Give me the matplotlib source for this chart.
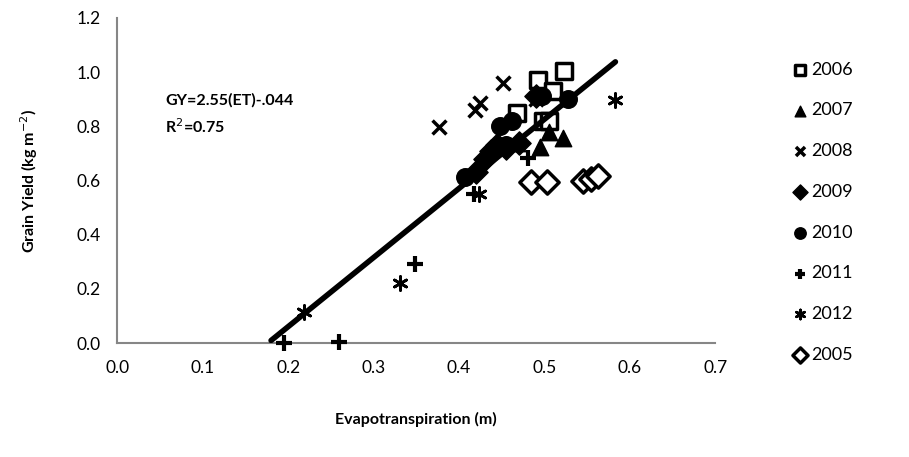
import numpy as np
import matplotlib
matplotlib.use("Agg")
import matplotlib.pyplot as plt

plt.rcParams["font.family"] = ["Lato", "DejaVu Sans"]

# evapotranspiration (m) and grain yield (kg m-2) per season
et_2006 = [0.492, 0.523, 0.510, 0.468, 0.498, 0.505]
gy_2006 = [0.970, 1.005, 0.930, 0.850, 0.820, 0.820]
et_2007 = [0.468, 0.495, 0.505, 0.522]
gy_2007 = [0.740, 0.725, 0.780, 0.756]
et_2008 = [0.377, 0.419, 0.425, 0.452, 0.490]
gy_2008 = [0.797, 0.860, 0.885, 0.960, 0.900]
et_2009 = [0.420, 0.430, 0.437, 0.445, 0.455, 0.470, 0.490]
gy_2009 = [0.630, 0.680, 0.710, 0.730, 0.720, 0.740, 0.910]
et_2010 = [0.407, 0.448, 0.462, 0.455, 0.497, 0.528]
gy_2010 = [0.612, 0.800, 0.820, 0.730, 0.910, 0.900]
et_2011 = [0.195, 0.260, 0.349, 0.417, 0.481]
gy_2011 = [0.000, 0.005, 0.292, 0.550, 0.682]
et_2012 = [0.218, 0.331, 0.423, 0.583]
gy_2012 = [0.115, 0.222, 0.550, 0.897]
et_2005 = [0.484, 0.503, 0.545, 0.555, 0.563]
gy_2005 = [0.595, 0.595, 0.600, 0.605, 0.615]

# fitted trendline
fit_slope = 2.55
fit_intercept = -0.449
fit_x = [0.18, 0.583]

fig = plt.figure(figsize=(9.09, 4.57), dpi=100)
ax = fig.add_axes([0.129, 0.249, 0.658, 0.712])

ms = 140
ax.scatter(et_2006, gy_2006, s=ms, marker="s", facecolor="white", edgecolor="black", linewidth=2.5, label="2006", zorder=3)
ax.scatter(et_2007, gy_2007, s=ms, marker="^", color="black", label="2007", zorder=3)
ax.scatter(et_2008, gy_2008, s=100, marker="x", color="black", linewidth=2.5, label="2008", zorder=3)
ax.scatter(et_2009, gy_2009, s=ms, marker="D", color="black", label="2009", zorder=3)
ax.scatter(et_2010, gy_2010, s=ms + 20, marker="o", color="black", label="2010", zorder=3)
ax.scatter(et_2011, gy_2011, s=120, marker="+", color="black", linewidth=3, label="2011", zorder=3, clip_on=False)
ax.scatter(et_2012, gy_2012, s=100, marker=(6, 2, 0), color="black", linewidth=2, label="2012", zorder=3)
ax.scatter(et_2005, gy_2005, s=ms, marker="D", facecolor="white", edgecolor="black", linewidth=2.5, label="2005", zorder=3)

fx = np.array(fit_x)
ax.plot(fx, fit_slope * fx + fit_intercept, color="black", linewidth=4, solid_capstyle="round", zorder=4)

ax.text(0.056, 0.895, "GY=2.55(ET)-.044", fontsize=11.5, fontweight="bold", va="center")
ax.text(0.056, 0.80, "R$^2$=0.75", fontsize=11.5, fontweight="bold", va="center")

ax.set_xlim(0, 0.7)
ax.set_ylim(0, 1.2)
ax.set_xticks(np.arange(0, 0.71, 0.1))
ax.set_yticks(np.arange(0, 1.21, 0.2))
ax.xaxis.set_major_formatter(matplotlib.ticker.FormatStrFormatter("%.1f"))
ax.yaxis.set_major_formatter(matplotlib.ticker.FormatStrFormatter("%.1f"))
ax.tick_params(length=0, labelsize=12.5, pad=12)
for side in ["top", "right"]:
    ax.spines[side].set_visible(False)
for side in ["left", "bottom"]:
    ax.spines[side].set_color("#868686")
    ax.spines[side].set_linewidth(1.5)

ax.set_xlabel("Evapotranspiration (m)", fontsize=11.5, fontweight="bold", labelpad=26)
ax.set_ylabel("Grain Yield (kg m$^{-2}$)", fontsize=11.5, fontweight="bold", labelpad=26)

ax.legend(loc="upper left", bbox_to_anchor=(1.1, 0.915), frameon=False, fontsize=13,
          markerscale=0.65, handletextpad=0.1, labelspacing=1.37, handlelength=1.0)

fig.savefig("out.png", dpi=100)
